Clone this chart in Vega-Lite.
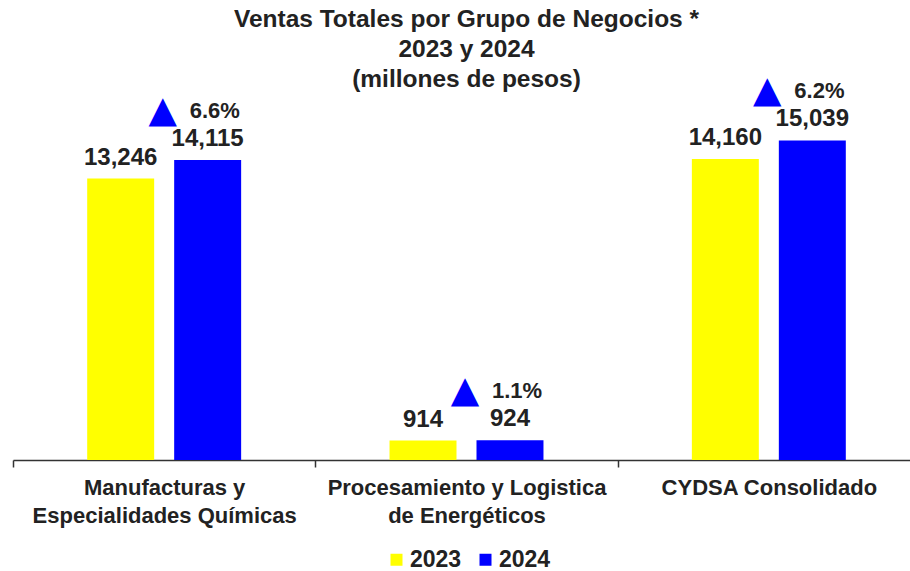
{
  "$schema": "https://vega.github.io/schema/vega-lite/v6.json",
  "width": 897,
  "height": 340,
  "autosize": {"type": "none"},
  "padding": {"left": 13, "top": 120, "right": 0, "bottom": 111},
  "background": "white",
  "config": {
    "font": "Liberation Sans",
    "view": {"stroke": null}
  },
  "title": {
    "text": ["Ventas Totales por Grupo de Negocios *", "2023 y 2024", "(millones de pesos)"],
    "fontSize": 24.5,
    "fontWeight": "bold",
    "lineHeight": 30,
    "color": "#222222",
    "anchor": "middle",
    "dx": 5,
    "offset": -20
  },
  "data": {
    "values": [
      {"cat": "Manufacturas y Especialidades Químicas", "year": "2023", "value": 13246, "pct": null},
      {"cat": "Manufacturas y Especialidades Químicas", "year": "2024", "value": 14115, "pct": "6.6%"},
      {"cat": "Procesamiento y Logistica de Energéticos", "year": "2023", "value": 914, "pct": null},
      {"cat": "Procesamiento y Logistica de Energéticos", "year": "2024", "value": 924, "pct": "1.1%"},
      {"cat": "CYDSA Consolidado", "year": "2023", "value": 14160, "pct": null},
      {"cat": "CYDSA Consolidado", "year": "2024", "value": 15039, "pct": "6.2%"}
    ]
  },
  "encoding": {
    "x": {
      "field": "cat",
      "type": "nominal",
      "sort": null,
      "scale": {"range": [0, 907], "paddingInner": 0, "paddingOuter": 0},
      "axis": {
        "title": null,
        "labelAngle": 0,
        "tickBand": "extent",
        "domainColor": "#333333",
        "domainWidth": 1.5,
        "tickColor": "#333333",
        "tickWidth": 1.5,
        "tickSize": 7,
        "labelPadding": 10,
        "labelFontSize": 22,
        "labelFontWeight": "bold",
        "labelColor": "#222222",
        "labelLineHeight": 28,
        "labelLimit": 0,
        "labelExpr": "datum.value == 'Manufacturas y Especialidades Químicas' ? ['Manufacturas y', 'Especialidades Químicas'] : datum.value == 'Procesamiento y Logistica de Energéticos' ? ['Procesamiento y Logistica', 'de Energéticos'] : datum.value"
      }
    },
    "xOffset": {
      "field": "year",
      "type": "nominal",
      "scale": {"paddingInner": 0.23, "paddingOuter": 0.853}
    },
    "y": {
      "field": "value",
      "type": "quantitative",
      "scale": {"domain": [0, 16000], "nice": false},
      "axis": null
    }
  },
  "layer": [
    {
      "mark": {"type": "bar"},
      "encoding": {
        "color": {
          "field": "year",
          "type": "nominal",
          "scale": {"domain": ["2023", "2024"], "range": ["#FFFF00", "#0000FF"]},
          "legend": {
            "title": null,
            "orient": "none",
            "legendX": 372,
            "legendY": 428,
            "direction": "horizontal",
            "symbolType": "square",
            "symbolSize": 144,
            "symbolStrokeWidth": 0,
            "labelFontSize": 23,
            "labelFontWeight": "bold",
            "labelColor": "#222222",
            "labelOffset": 2,
            "columnPadding": 12,
            "padding": 0
          }
        }
      }
    },
    {
      "mark": {"type": "text", "fontSize": 24, "fontWeight": "bold", "color": "#222222", "baseline": "alphabetic", "dy": -14},
      "encoding": {
        "text": {"field": "value", "type": "quantitative", "format": ","}
      }
    },
    {
      "transform": [{"filter": "datum.year == '2024'"}],
      "mark": {"type": "text", "font": "DejaVu Sans", "fontSize": 37, "color": "#0000FF", "align": "center", "baseline": "alphabetic", "dx": -45, "dy": -38},
      "encoding": {
        "text": {"value": "▲"}
      }
    },
    {
      "transform": [{"filter": "datum.year == '2024'"}],
      "mark": {"type": "text", "fontSize": 22, "fontWeight": "bold", "color": "#222222", "align": "left", "baseline": "alphabetic", "dx": -18, "dy": -42},
      "encoding": {
        "text": {"field": "pct", "type": "nominal"}
      }
    }
  ]
}
